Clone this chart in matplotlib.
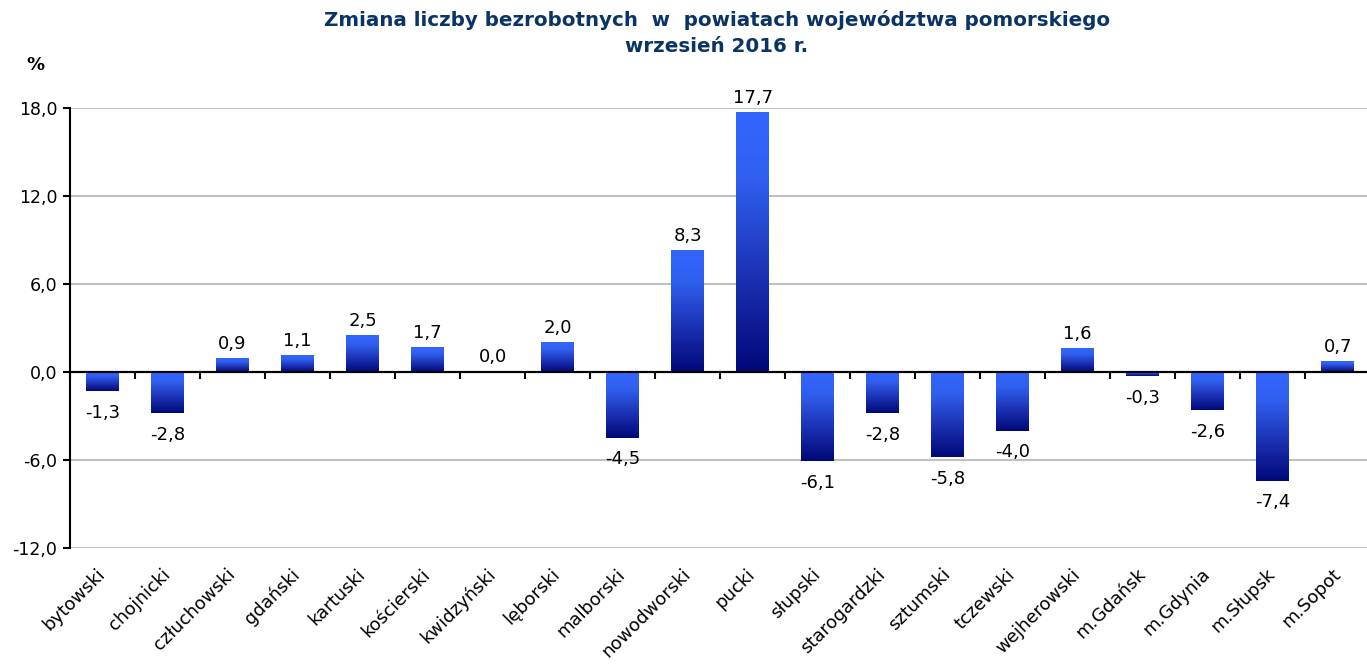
import numpy as np
import matplotlib.pyplot as plt
from matplotlib.colors import LinearSegmentedColormap

powiaty = ['bytowski', 'chojnicki', 'człuchowski', 'gdański', 'kartuski',
           'kościerski', 'kwidzyński', 'lęborski', 'malborski', 'nowodworski',
           'pucki', 'słupski', 'starogardzki', 'sztumski', 'tczewski',
           'wejherowski', 'm.Gdańsk', 'm.Gdynia', 'm.Słupsk', 'm.Sopot']
zmiana = [-1.3, -2.8, 0.9, 1.1, 2.5, 1.7, 0.0, 2.0, -4.5, 8.3,
          17.7, -6.1, -2.8, -5.8, -4.0, 1.6, -0.3, -2.6, -7.4, 0.7]
y_ticks = [-12, -6, 0, 6, 12, 18]

plt.rcParams['font.family'] = 'DejaVu Sans'

fig = plt.figure(figsize=(13.67, 6.66), dpi=100)
ax = fig.add_axes([0.0512, 0.1772, 0.9488, 0.6606])

x = np.arange(len(powiaty))
width = 0.5
cmap = LinearSegmentedColormap.from_list(
    'grad', [(0, '#000878'), (0.35, '#1a2fb0'), (0.75, '#3060f0'), (1, '#3366ff')])
grad = np.linspace(0, 1, 256).reshape(-1, 1)

# bars with vertical gradient (dark at bottom, bright at top)
bars = ax.bar(x, zmiana, width=width, color='none', edgecolor='none', zorder=3)
for b, v in zip(bars, zmiana):
    if v == 0:
        continue
    x0 = b.get_x()
    ax.imshow(grad, cmap=cmap, origin='lower', aspect='auto', zorder=3,
              extent=(x0, x0 + b.get_width(), min(0, v), max(0, v)))

# value labels
for xi, v in zip(x, zmiana):
    txt = f'{v:.1f}'.replace('.', ',')
    if v >= 0:
        ax.annotate(txt, (xi, v), xytext=(0, 4), textcoords='offset points',
                    ha='center', va='bottom', fontsize=13)
    else:
        ax.annotate(txt, (xi, v), xytext=(0, -9), textcoords='offset points',
                    ha='center', va='top', fontsize=13)

ax.set_xlim(-0.5, len(powiaty) - 0.55)
ax.set_ylim(-12, 18)
ax.set_yticks(y_ticks)
ax.set_yticklabels([f'{t:.1f}'.replace('.', ',') for t in y_ticks], fontsize=12.5)
ax.grid(axis='y', color='#c0c0c0', lw=1.5, zorder=0)
ax.set_axisbelow(True)

ax.set_xticks(x)
ax.set_xticklabels(powiaty, rotation=45, ha='right', va='center',
                   rotation_mode='anchor', fontsize=13)
ax.tick_params(axis='x', length=0, pad=17)
ax.tick_params(axis='y', direction='out', length=5, width=1.5, pad=4)

for s in ['top', 'right', 'bottom']:
    ax.spines[s].set_visible(False)
ax.spines['left'].set_linewidth(1.5)

# zero line with ticks between categories
ax.axhline(0, color='black', lw=1.5, zorder=4)
sec = ax.secondary_xaxis(0, transform=ax.transData)
sec.set_xticks(np.arange(-0.5, len(powiaty), 1))
sec.set_xticklabels([])
sec.tick_params(direction='out', length=5, width=1.5)
sec.spines['bottom'].set_linewidth(1.5)

fig.text(0.5245, 0.985, 'Zmiana liczby bezrobotnych  w  powiatach województwa pomorskiego\nwrzesień 2016 r.',
         ha='center', va='top', fontsize=14.3, fontweight='bold', color='#0b3466',
         linespacing=1.5)
fig.text(0.026, 0.902, '%', ha='center', va='center', fontsize=13, fontweight='bold')

fig.savefig('out.png', dpi=100)
